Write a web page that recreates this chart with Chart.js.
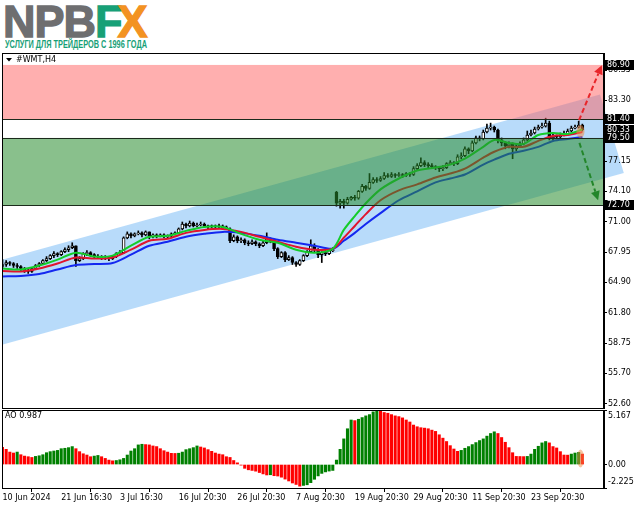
<!DOCTYPE html>
<html>
<head>
<meta charset="utf-8">
<script src="https://cdn.jsdelivr.net/npm/chart.js@4.4.0/dist/chart.umd.min.js"></script>
<style>
html, body { margin: 0; padding: 0; background: #fff; width: 639px; height: 508px; overflow: hidden; }
body { position: relative; }
#logo { position: absolute; left: 3px; top: -1px; font-family: "Liberation Sans", Arial, sans-serif; font-weight: bold; font-size: 45px; line-height: 45px; white-space: nowrap; letter-spacing: -1px; }
#logo .npb { color: #6e6e70; -webkit-text-stroke: 1.3px #6e6e70; }
#logo .f { color: #17a077; letter-spacing: -5px; -webkit-text-stroke: 1.3px #17a077; }
#logo .x { color: #f39222; -webkit-text-stroke: 1.3px #f39222; }
#slogan { position: absolute; left: 5px; top: 39px; font-family: "Liberation Sans", Arial, sans-serif; font-weight: bold; font-size: 10px; line-height: 11px; color: #17a077; white-space: nowrap; transform-origin: 0 0; }
#priceBox { position: absolute; left: 0; top: 0; width: 639px; height: 412px; }
#aoBox { position: absolute; left: 0; top: 408px; width: 639px; height: 100px; }
</style>
</head>
<body>
<div id="logo"><span class="npb">NPB</span><span class="f">F</span><span class="x">X</span></div>
<div id="slogan">УСЛУГИ ДЛЯ ТРЕЙДЕРОВ С 1996 ГОДА</div>
<div id="priceBox"><canvas id="priceChart"></canvas></div>
<div id="aoBox"><canvas id="aoChart"></canvas></div>
<script>
// --- data (WMT, H4) ---
const symbolTitle = '#WMT,H4';
const opens = [
  66.5,66.7,66.9,66.8,66.6,66.5,66.3,66.1,66.0,66.3,
  66.6,66.8,67.1,67.3,67.6,67.8,67.7,68.0,68.2,68.4,
  68.6,67.1,67.3,67.8,67.9,67.7,67.5,67.5,67.4,67.4,
  67.3,67.5,67.8,67.9,69.4,69.8,69.6,69.8,69.9,69.7,
  70.0,69.6,69.7,69.6,69.7,69.5,69.6,69.8,69.9,70.3,
  70.8,70.6,70.9,70.6,70.7,70.8,70.6,70.5,70.6,70.5,
  70.6,70.4,70.3,69.1,69.5,69.1,69.2,68.9,68.8,69.0,
  68.8,68.6,68.9,69.3,69.1,68.3,67.5,67.9,67.2,67.4,
  66.9,66.7,67.1,67.6,68.0,68.6,68.2,67.7,67.9,67.8,
  68.1,74.0,72.9,73.1,72.9,73.3,73.5,73.4,74.1,74.6,
  74.4,75.0,75.3,75.2,75.4,75.7,75.6,75.8,75.7,75.8,
  75.7,75.9,75.8,76.4,76.7,77.0,76.8,76.7,76.6,76.5,
  76.4,76.5,76.9,77.0,76.9,77.6,77.7,78.4,78.2,79.0,
  79.5,79.4,80.1,80.5,80.6,80.3,79.3,79.0,78.7,78.9,
  78.4,78.7,78.9,79.3,79.8,80.0,80.4,80.6,80.7,81.0,
  79.5,79.7,79.6,79.8,79.9,80.2,80.5,80.6,80.8
];
const highs = [
  67.2,67.1,67.0,66.9,66.8,66.6,66.4,66.3,66.4,66.7,
  66.9,67.2,67.5,67.7,68.0,67.9,68.1,68.4,68.6,68.9,
  68.6,67.5,67.9,68.1,68.0,67.8,67.7,67.6,67.6,67.5,
  67.6,67.9,68.1,69.5,70.0,69.9,69.9,70.1,70.0,70.1,
  70.0,69.8,69.8,69.8,69.8,69.7,69.9,70.0,70.4,71.0,
  70.9,71.1,71.0,70.9,71.0,70.9,70.7,70.7,70.7,70.8,
  70.7,70.6,70.4,69.7,69.6,69.4,69.3,69.1,69.2,69.1,
  68.9,69.1,69.9,69.4,69.2,68.4,68.0,68.0,67.6,67.5,
  67.0,67.2,67.7,68.1,69.2,68.8,68.3,68.0,68.1,68.3,
  68.4,74.1,73.3,73.3,73.5,73.6,73.7,74.2,74.8,74.7,
  75.9,75.5,75.5,75.6,76.0,75.9,76.0,75.9,76.0,75.9,
  76.0,76.0,76.6,76.9,77.5,77.2,77.0,76.9,76.7,76.6,
  76.7,77.0,77.2,77.1,77.8,78.0,78.6,78.5,79.2,79.7,
  79.7,80.3,80.9,81.0,80.7,80.4,79.5,79.1,79.1,79.0,
  78.9,79.1,79.5,80.2,80.3,80.6,80.8,81.0,81.5,81.2,
  79.9,79.8,80.0,80.2,80.4,80.7,80.8,81.2,80.9
];
const lows = [
  66.3,66.5,66.6,66.4,66.3,66.1,65.9,65.8,65.9,66.2,
  66.5,66.7,67.0,67.2,67.4,67.5,67.6,67.9,68.0,68.3,
  66.5,67.0,67.2,67.6,67.5,67.3,67.3,67.2,67.2,67.1,
  67.2,67.4,67.7,67.8,69.3,69.4,69.5,69.7,69.5,69.6,
  69.3,69.4,69.4,69.5,69.4,69.4,69.5,69.7,69.8,70.2,
  70.4,70.5,70.5,70.5,70.6,70.5,70.3,70.4,70.4,70.4,
  70.3,70.3,68.9,69.0,68.9,68.9,68.7,68.6,68.7,68.6,
  68.4,68.5,68.8,68.9,68.1,67.3,67.4,67.0,67.1,66.7,
  66.5,66.6,67.0,67.5,67.9,68.0,67.4,66.9,67.6,67.7,
  68.0,72.6,72.4,72.4,72.8,73.2,73.2,73.3,74.0,74.2,
  74.3,74.9,75.0,75.1,75.3,75.5,75.5,75.5,75.6,75.5,
  75.6,75.6,75.7,76.3,76.6,76.6,76.5,76.4,76.3,76.1,
  76.2,76.4,76.8,76.7,76.8,77.4,77.6,77.9,78.1,78.9,
  79.2,79.3,80.0,80.3,80.1,79.0,78.7,78.4,78.5,77.4,
  78.2,78.6,78.8,79.2,79.7,79.9,80.3,80.5,80.6,79.3,
  79.3,79.4,79.5,79.7,79.8,80.1,80.4,80.5,80.2
];
const closes = [
  66.7,66.9,66.8,66.6,66.5,66.3,66.1,66.0,66.3,66.6,
  66.8,67.1,67.3,67.6,67.8,67.7,68.0,68.2,68.4,68.6,
  67.1,67.3,67.8,67.9,67.7,67.5,67.5,67.4,67.4,67.3,
  67.5,67.8,67.9,69.4,69.8,69.6,69.8,69.9,69.7,70.0,
  69.6,69.7,69.6,69.7,69.5,69.6,69.8,69.9,70.3,70.8,
  70.6,70.9,70.6,70.7,70.8,70.6,70.5,70.6,70.5,70.6,
  70.4,70.5,69.1,69.5,69.1,69.2,68.9,68.8,69.0,68.8,
  68.6,68.9,69.3,69.1,68.3,67.5,67.9,67.2,67.4,66.9,
  66.7,67.1,67.6,68.0,68.6,68.2,67.7,67.9,67.8,68.1,
  68.2,72.9,73.1,72.9,73.3,73.5,73.4,74.1,74.6,74.4,
  75.0,75.3,75.2,75.4,75.7,75.6,75.8,75.7,75.8,75.7,
  75.9,75.8,76.4,76.7,77.0,76.8,76.7,76.6,76.5,76.4,
  76.5,76.9,77.0,76.9,77.6,77.7,78.4,78.2,79.0,79.5,
  79.4,80.1,80.5,80.6,80.3,79.3,79.0,78.7,78.9,78.4,
  78.7,78.9,79.3,79.8,80.0,80.4,80.6,80.7,81.0,79.5,
  79.7,79.6,79.8,79.9,80.2,80.5,80.6,80.8,80.33
];

// Alligator lines, read at these bar numbers
const lineBars = [0,5,10,15,20,25,30,35,40,45,50,55,60,65,70,75,80,85,90,93,96,99,103,108,113,118,122,126,131,134,138,142,146,150,154,158];
const lipsLine = [66.3,66.2,66.6,67.2,67.9,67.5,67.6,68.6,69.5,69.6,70.1,70.5,70.5,69.8,69.2,68.9,68.2,67.9,68.3,70.2,71.6,72.9,74.3,75.4,76.2,76.5,76.8,77.4,78.6,79.3,79.0,78.9,79.8,80.0,79.9,80.35];
const teethLine = [66.05,66.0,66.3,66.8,67.4,67.3,67.4,68.2,69.1,69.3,69.9,70.2,70.3,70.0,69.5,69.0,68.5,68.2,68.3,69.4,70.6,71.8,73.2,74.2,74.8,75.5,75.9,76.4,77.5,78.1,78.6,78.6,79.2,79.7,79.8,80.1];
const jawLine = [65.5,65.55,65.75,66.2,66.65,66.75,66.85,67.7,68.6,69.0,69.5,69.8,70.0,69.9,69.6,69.2,68.9,68.6,68.3,69.1,69.9,70.8,71.9,73.2,74.1,75.0,75.4,75.8,76.8,77.3,77.9,78.2,78.6,79.2,79.4,79.6];

// Awesome Oscillator, one value per bar
const aoValues = [
  1.63,1.44,1.18,1.09,1.18,0.93,0.80,0.74,0.67,0.77,
  0.83,0.93,1.12,1.22,1.28,1.34,1.50,1.54,1.60,1.70,
  1.50,1.22,1.02,0.90,0.74,0.80,0.86,0.74,0.58,0.42,
  0.35,0.38,0.45,0.58,0.90,1.28,1.50,1.86,1.92,1.89,
  1.86,1.76,1.70,1.50,1.31,1.18,1.06,1.05,1.07,1.18,
  1.41,1.50,1.60,1.76,1.66,1.57,1.41,1.25,1.09,0.99,
  0.93,0.74,0.67,0.38,0.16,-0.06,-0.36,-0.50,-0.56,-0.63,
  -0.76,-0.89,-0.99,-0.97,-1.06,-1.09,-1.20,-1.38,-1.56,-1.75,
  -1.89,-2.05,-1.98,-1.92,-1.72,-1.40,-1.08,-0.84,-0.70,-0.62,
  -0.56,0.42,1.44,2.43,3.39,4.22,4.16,4.29,4.45,4.61,
  4.73,4.99,5.10,5.05,4.93,4.86,4.73,4.61,4.54,4.42,
  4.22,4.03,3.74,3.58,3.49,3.45,3.39,3.26,3.14,2.82,
  2.50,2.18,1.79,1.47,1.25,1.34,1.54,1.70,1.89,2.08,
  2.27,2.43,2.69,2.94,3.10,2.94,2.56,2.11,1.60,1.12,
  0.77,0.76,0.75,0.77,0.99,1.44,1.73,2.05,2.18,2.05,
  1.70,1.57,1.22,0.90,0.89,0.99,1.09,1.15,0.987
];

const timeLabels = ['10 Jun 2024','21 Jun 16:30','3 Jul 16:30','16 Jul 20:30','26 Jul 20:30','7 Aug 20:30','19 Aug 20:30','29 Aug 20:30','11 Sep 20:30','23 Sep 20:30'];
const timeLabelBars = [0,16,32,48,64,80,96,112,128,144];
const priceTicks = [52.60,55.70,58.75,61.80,64.90,67.95,71.00,74.10,77.15,80.20,83.30,86.35];
const aoTicks = [5.167, 0, -2.225];
const boxedPrices = [86.90, 81.40, 80.33, 79.50, 72.70];
const upperZone = [81.40, 86.90];
const lowerZone = [72.70, 79.50];
// channel drawn as a tilted rectangle: [bar, price] corners
const channelCorners = [[-40, 63.1], [162.8, 83.89], [169.3, 75.95], [-40, 54.5]];
const arrowUp = [[157.1, 81.3], [163.3, 86.85]];
const arrowDown = [[157.2, 79.0], [162.3, 73.2]];
const lastMark = [157.5, 80.15];
const aoMark = [157.5, 0.58];

const barMin = -0.136, barMax = 163.9;
const priceMin = 52.19, priceMax = 88.09;
const mtFont = '8px "DejaVu Sans", sans-serif';

// slogan squeezed to its width in the logo
const slogan = document.getElementById('slogan');
slogan.style.transform = 'scaleX(' + (142 / slogan.getBoundingClientRect().width) + ')';

function drawArrow(ctx, x1, y1, x2, y2, color) {
    const ang = Math.atan2(y2 - y1, x2 - x1);
    const head = 9;
    const bx = x2 - Math.cos(ang) * head, by = y2 - Math.sin(ang) * head;
    ctx.save();
    ctx.strokeStyle = color;
    ctx.lineWidth = 2;
    ctx.setLineDash([5, 3]);
    ctx.beginPath();
    ctx.moveTo(x1, y1);
    ctx.lineTo(bx, by);
    ctx.stroke();
    ctx.setLineDash([]);
    ctx.fillStyle = color;
    ctx.beginPath();
    ctx.moveTo(x2, y2);
    ctx.lineTo(bx + Math.sin(ang) * 4.5, by - Math.cos(ang) * 4.5);
    ctx.lineTo(bx - Math.sin(ang) * 4.5, by + Math.cos(ang) * 4.5);
    ctx.closePath();
    ctx.fill();
    ctx.restore();
}

const priceOverlay = {
    id: 'priceOverlay',
    beforeDraw(chart) {
        // the channel sits under everything, also under the price scale
        const { ctx, chartArea: a, scales: { x, y } } = chart;
        ctx.save();
        ctx.beginPath();
        ctx.rect(a.left, a.top, chart.width - a.left, a.bottom - a.top);
        ctx.clip();
        ctx.fillStyle = 'rgba(125,190,246,0.55)';
        ctx.beginPath();
        channelCorners.forEach((p, i) => {
            const px = x.getPixelForValue(p[0]), py = y.getPixelForValue(p[1]);
            if (i === 0) ctx.moveTo(px, py); else ctx.lineTo(px, py);
        });
        ctx.closePath();
        ctx.fill();
        ctx.restore();
    },
    afterDatasetsDraw(chart) {
        const { ctx, chartArea: a, scales: { x, y } } = chart;
        ctx.save();
        ctx.beginPath();
        ctx.rect(a.left, a.top, a.right - a.left, a.bottom - a.top);
        ctx.clip();
        // zones
        ctx.fillStyle = 'rgba(255,95,95,0.5)';
        let t = y.getPixelForValue(upperZone[1]), b = y.getPixelForValue(upperZone[0]);
        ctx.fillRect(a.left, t, a.right - a.left, b - t);
        ctx.fillStyle = 'rgba(40,140,45,0.55)';
        t = y.getPixelForValue(lowerZone[1]); b = y.getPixelForValue(lowerZone[0]);
        ctx.fillRect(a.left, t, a.right - a.left, b - t);
        ctx.strokeStyle = '#1b2a1b';
        ctx.lineWidth = 1;
        [upperZone[0], lowerZone[1], lowerZone[0]].forEach(v => {
            const py = Math.round(y.getPixelForValue(v)) + 0.5;
            ctx.beginPath(); ctx.moveTo(a.left, py); ctx.lineTo(a.right, py); ctx.stroke();
        });
        // last price highlight
        ctx.fillStyle = 'rgba(240,140,70,0.55)';
        ctx.beginPath();
        ctx.ellipse(x.getPixelForValue(lastMark[0]), y.getPixelForValue(lastMark[1]), 4, 6.5, 0, 0, Math.PI * 2);
        ctx.fill();
        ctx.restore();

        drawArrow(ctx, x.getPixelForValue(arrowUp[0][0]), y.getPixelForValue(arrowUp[0][1]),
            x.getPixelForValue(arrowUp[1][0]), y.getPixelForValue(arrowUp[1][1]), '#e8262a');
        drawArrow(ctx, x.getPixelForValue(arrowDown[0][0]), y.getPixelForValue(arrowDown[0][1]),
            x.getPixelForValue(arrowDown[1][0]), y.getPixelForValue(arrowDown[1][1]), '#23862a');

        // frame
        ctx.save();
        ctx.strokeStyle = '#000';
        ctx.lineWidth = 1;
        ctx.strokeRect(a.left + 0.5, a.top + 0.5, a.right - a.left - 1, a.bottom - a.top);
        // title strip
        ctx.fillStyle = '#fff';
        ctx.fillRect(a.left + 1, a.top + 1, a.right - a.left - 2, y.getPixelForValue(upperZone[1]) - a.top - 1);
        ctx.fillStyle = '#000';
        ctx.beginPath();
        ctx.moveTo(6, a.top + 5); ctx.lineTo(12, a.top + 5); ctx.lineTo(9, a.top + 8.5);
        ctx.closePath(); ctx.fill();
        ctx.font = mtFont;
        ctx.textBaseline = 'middle';
        ctx.fillText(symbolTitle, 16, a.top + 7);
        // boxed prices on the axis
        boxedPrices.forEach(v => {
            const py = y.getPixelForValue(v);
            ctx.fillStyle = '#000';
            ctx.fillRect(a.right + 1, Math.round(py) - 5, 29, 10);
            ctx.fillStyle = '#fff';
            ctx.fillText(v.toFixed(2), a.right + 3, Math.round(py));
        });
        ctx.restore();
    }
};

new Chart(document.getElementById('priceChart'), {
    type: 'bar',
    data: {
        datasets: [
            {
                type: 'line', data: lineBars.map((b, i) => ({ x: b, y: lipsLine[i] })),
                borderColor: '#14cc2a', borderWidth: 2, pointRadius: 0, tension: 0.3, order: 0
            },
            {
                type: 'line', data: lineBars.map((b, i) => ({ x: b, y: teethLine[i] })),
                borderColor: '#e0142e', borderWidth: 2, pointRadius: 0, tension: 0.3, order: 0
            },
            {
                type: 'line', data: lineBars.map((b, i) => ({ x: b, y: jawLine[i] })),
                borderColor: '#1428f0', borderWidth: 2, pointRadius: 0, tension: 0.3, order: 0
            },
            {
                data: opens.map((o, i) => ({ x: i, y: [o, closes[i]] })),
                backgroundColor: opens.map((o, i) => closes[i] >= o ? '#ffffff' : '#000000'),
                borderColor: '#000', borderWidth: 1, borderSkipped: false,
                barThickness: 3, grouped: false, order: 1
            },
            {
                data: highs.map((h, i) => ({ x: i, y: [lows[i], h] })),
                backgroundColor: '#000', barThickness: 1, grouped: false, order: 2
            }
        ]
    },
    options: {
        responsive: true, maintainAspectRatio: false, animation: false,
        layout: { padding: { left: 2, top: 53, right: 0, bottom: 4 } },
        plugins: { legend: { display: false }, tooltip: { enabled: false } },
        scales: {
            x: { type: 'linear', min: barMin, max: barMax, display: false, offset: false },
            y: {
                position: 'right', min: priceMin, max: priceMax,
                afterBuildTicks: s => { s.ticks = priceTicks.map(v => ({ value: v })); },
                afterFit: s => { s.width = 35; s.paddingTop = 0; s.paddingBottom = 0; },
                grid: { drawOnChartArea: false, color: '#000', tickLength: 3 },
                border: { color: '#000' },
                ticks: { color: '#000', font: { family: '"DejaVu Sans", sans-serif', size: 8 }, padding: 1,
                    callback: v => v.toFixed(2) }
            }
        }
    },
    plugins: [priceOverlay]
});

const aoOverlay = {
    id: 'aoOverlay',
    afterDatasetsDraw(chart) {
        const { ctx, chartArea: a, scales: { x, y } } = chart;
        ctx.save();
        ctx.fillStyle = 'rgba(240,140,70,0.5)';
        ctx.beginPath();
        ctx.ellipse(x.getPixelForValue(aoMark[0]), y.getPixelForValue(aoMark[1]), 3.5, 9, 0, 0, Math.PI * 2);
        ctx.fill();
        ctx.strokeStyle = '#000';
        ctx.lineWidth = 1;
        ctx.strokeRect(a.left + 0.5, a.top + 0.5, a.right - a.left - 1, a.bottom - a.top);
        ctx.fillStyle = '#000';
        ctx.font = mtFont;
        ctx.textBaseline = 'middle';
        ctx.fillText('AO ' + aoValues[aoValues.length - 1].toFixed(3), 5, a.top + 6);
        aoTicks.forEach(v => {
            let py = y.getPixelForValue(v);
            py = Math.min(Math.max(py, a.top + 6), a.bottom - 6);
            ctx.fillText(v === 0 ? '0.00' : v.toFixed(3), a.right + 4, py);
        });
        ctx.restore();
    }
};

new Chart(document.getElementById('aoChart'), {
    type: 'bar',
    data: {
        datasets: [{
            data: aoValues.map((v, i) => ({ x: i, y: v })),
            backgroundColor: aoValues.map((v, i) => (i > 0 && v > aoValues[i - 1]) ? '#008000' : '#ff0000'),
            barThickness: 2.4, grouped: false
        }]
    },
    options: {
        responsive: true, maintainAspectRatio: false, animation: false,
        layout: { padding: { left: 2, top: 2, right: 0, bottom: 0 } },
        plugins: { legend: { display: false }, tooltip: { enabled: false } },
        scales: {
            x: {
                type: 'linear', min: barMin, max: barMax, offset: false,
                afterBuildTicks: s => { s.ticks = timeLabelBars.map(v => ({ value: v })); },
                afterFit: s => { s.height = 20; s.paddingLeft = 0; s.paddingRight = 0; },
                grid: { drawOnChartArea: false, color: '#000', tickLength: 4 },
                border: { color: '#000' },
                ticks: { color: '#000', font: { family: '"DejaVu Sans", sans-serif', size: 8 },
                    padding: 1, align: 'start', autoSkip: false, maxRotation: 0,
                    callback: (v, i) => timeLabels[i] }
            },
            y: {
                position: 'right', min: -2.225, max: 5.167,
                afterBuildTicks: s => { s.ticks = aoTicks.map(v => ({ value: v })); },
                afterFit: s => { s.width = 35; s.paddingTop = 0; s.paddingBottom = 0; },
                grid: { drawOnChartArea: false, color: '#000', tickLength: 3 },
                border: { color: '#000' },
                ticks: { display: false }
            }
        }
    },
    plugins: [aoOverlay]
});
</script>
</body>
</html>
